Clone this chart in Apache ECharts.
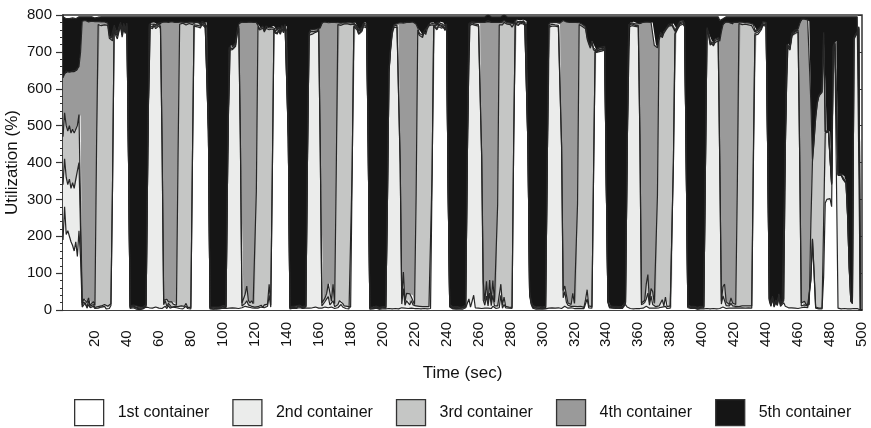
<!DOCTYPE html>
<html>
<head>
<meta charset="utf-8">
<script src="https://cdn.jsdelivr.net/npm/echarts@6/dist/echarts.min.js"></script>
<style>
  html, body { margin: 0; padding: 0; background: #ffffff; }
  #chart { width: 871px; height: 428px; }
</style>
</head>
<body>
<div id="chart"></div>
<script>
// CPU utilization (%) of five containers, one sample per second (t = 0 .. 500 s)
const containerNames = ['1st container', '2nd container', '3rd container', '4th container', '5th container'];

const util1st = [
  190,280,205,215,200,185,175,160,185,145,
  215,140,8,12,20,5,15,6,3,10,
  4,3,5,3,8,4,10,3,6,4,
  12,336,760,745,735,755,770,740,762,750,
  768,408,4,2,6,3,2,5,1,4,
  3,2,8,5,6,4,5,3,8,4,
  5,3,4,6,10,4,12,5,3,8,
  4,6,5,4,8,3,6,10,4,5,
  3,400,770,775,768,772,765,774,770,766,
  772,482,3,5,2,4,2,6,3,2,
  5,3,4,4,5,3,6,4,5,8,
  4,5,6,4,10,5,8,3,6,4,
  5,4,5,3,8,4,6,5,10,40,
  8,367,760,750,745,755,748,760,752,765,
  758,462,3,2,5,2,4,3,6,2,
  4,3,5,6,5,4,6,3,8,4,
  5,4,5,3,8,10,6,4,8,5,
  4,5,6,10,15,8,5,4,6,3,
  5,392,768,770,760,748,745,755,768,772,
  765,442,2,4,3,2,5,3,2,4,
  3,5,3,5,4,5,3,6,4,5,
  3,4,6,8,5,10,4,8,5,6,
  4,5,4,6,3,5,4,6,3,5,
  4,370,770,765,760,768,772,764,770,758,
  766,330,8,5,3,6,2,4,3,5,
  2,4,6,6,30,8,5,40,6,4,
  5,3,4,6,5,8,5,6,4,10,
  5,4,5,6,40,5,15,6,4,5,
  3,4,440,775,780,772,778,774,780,770,
  776,432,40,15,5,3,2,4,3,5,
  2,4,3,5,5,4,6,3,5,4,
  6,3,4,8,10,6,5,4,6,5,
  4,5,4,5,4,6,4,8,30,6,
  4,5,360,700,695,700,700,702,698,705,
  333,20,6,3,5,2,4,3,5,2,
  4,8,15,8,5,4,6,3,5,4,
  6,4,6,5,8,10,6,5,8,5,
  4,5,5,6,4,8,5,10,4,6,
  5,4,400,748,752,765,772,770,775,768,
  400,6,3,4,2,5,3,2,4,3,
  5,3,5,4,5,3,6,4,5,3,
  5,4,6,8,5,4,6,5,8,5,
  4,6,5,5,4,6,3,5,4,6,
  3,5,380,745,742,748,752,760,772,775,
  770,420,25,10,30,8,20,12,35,10,
  15,20,10,8,6,5,6,4,5,6,
  4,5,6,5,8,5,6,4,80,190,
  100,5,4,3,4,3,90,290,300,295,
  302,280,700,715,720,5,4,3,5,4,
  3,3,3,3,2,4,3,4,3,0,
  0
];

const util2nd = [
  150,130,155,125,155,145,170,170,170,215,
  185,70,5,10,6,3,10,4,2,5,
  3,3,4,6,3,2,5,8,4,3,
  5,4,3,5,8,4,3,6,5,4,
  3,3,2,1,3,2,3,2,2,3,
  1,4,2,390,760,765,758,768,755,762,
  766,760,445,8,15,5,6,10,4,3,
  6,3,4,6,3,5,4,8,3,6,
  4,4,3,2,4,3,5,2,3,4,
  3,3,2,3,1,2,3,2,1,2,
  3,2,2,372,700,705,700,702,710,740,
  760,452,5,12,8,20,6,10,4,8,
  3,6,4,6,5,3,8,4,6,30,
  5,5,3,4,3,5,4,3,4,3,
  5,3,2,3,2,1,2,2,3,2,
  1,2,3,410,740,745,742,748,745,750,
  752,424,6,8,15,20,30,10,6,20,
  5,6,8,15,12,10,6,5,4,5,
  3,4,3,2,4,3,5,3,4,2,
  3,3,3,2,1,2,3,2,1,2,
  3,2,2,280,640,700,745,760,765,762,
  766,392,10,50,8,15,25,6,20,8,
  5,6,5,4,6,4,5,3,5,4,
  6,5,3,4,3,4,3,5,3,4,
  3,3,3,2,1,2,3,2,1,2,
  3,2,3,392,740,765,770,730,766,768,
  765,768,410,20,8,30,6,40,8,30,
  6,5,6,5,30,8,20,4,6,3,
  5,3,4,3,2,3,2,3,2,4,
  3,3,4,3,2,1,3,2,1,2,
  3,2,1,372,762,768,764,770,765,768,
  762,766,438,25,40,15,8,6,4,10,
  6,4,5,4,6,5,3,20,25,5,
  6,4,5,4,3,4,3,4,3,3,
  3,3,2,2,1,3,2,2,1,2,
  3,2,3,390,762,768,765,770,764,766,
  762,466,8,6,12,20,40,8,30,10,
  6,4,6,5,8,20,6,25,5,4,
  6,3,5,3,4,3,4,3,4,3,
  3,3,2,1,3,2,2,1,3,2,
  2,3,372,755,740,715,718,712,720,722,
  725,390,10,30,20,8,5,6,10,6,
  5,4,6,4,6,5,4,6,3,5,
  4,6,30,5,8,6,5,4,3,3,
  4,3,3,2,3,2,3,2,5,3,
  4,5,420,705,710,700,738,740,745,742,
  750,412,5,8,6,4,5,6,3,3,
  3,3,3,2,3,2,150,190,180,188,
  178,60,10,6,5,360,365,362,350,355,
  340,250,110,20,15,730,740,745,760,0,
  0
];

const util3rd = [
  130,125,140,145,145,150,145,150,130,140,
  130,320,6,8,4,12,8,3,10,8,
  5,438,765,768,760,770,758,765,762,730,
  715,390,4,6,4,5,3,8,4,3,
  4,3,3,2,2,1,2,3,2,1,
  2,2,3,3,5,6,4,5,6,3,
  4,6,5,12,6,20,4,8,15,5,
  10,4,408,765,762,770,764,755,768,766,
  770,370,4,3,3,5,3,4,2,5,
  3,3,2,1,3,2,1,2,2,1,
  2,3,2,2,4,5,3,6,4,5,
  6,6,8,6,25,40,12,6,15,5,
  8,312,760,750,745,758,740,755,748,690,
  750,390,4,3,5,4,3,5,4,3,
  4,3,2,1,2,3,2,1,2,3,
  2,2,2,3,4,6,5,4,5,3,
  6,5,8,5,10,15,35,60,10,45,
  8,361,760,745,745,755,765,765,766,768,
  766,378,4,3,3,5,3,4,3,4,
  3,3,1,2,2,3,1,2,2,1,
  2,2,1,1,3,4,5,4,3,6,
  4,5,15,45,10,20,12,30,10,25,
  6,302,750,735,740,730,745,738,755,762,
  765,398,4,3,5,3,4,3,4,3,
  4,2,2,3,2,1,2,3,2,1,
  2,2,2,3,4,3,4,5,3,5,
  4,5,6,50,10,40,8,35,12,40,
  10,8,275,762,700,760,745,765,765,768,
  766,760,330,3,3,4,3,2,3,3,
  2,2,3,2,3,2,1,2,2,1,
  2,2,2,2,4,3,5,4,3,5,
  4,5,6,20,15,20,6,8,5,30,
  8,6,280,765,762,758,760,735,680,710,
  700,715,340,3,4,3,4,3,4,3,
  2,2,3,1,2,2,1,2,2,3,
  1,2,2,3,4,3,5,4,3,5,
  4,5,5,10,6,40,50,10,20,35,
  8,6,300,720,735,710,740,720,755,760,
  758,765,368,4,3,4,3,4,3,4,
  3,2,1,2,2,1,3,2,1,2,
  1,2,2,3,4,5,4,3,6,4,
  5,5,8,25,45,10,8,4,15,8,
  6,5,329,768,765,763,770,764,768,762,
  768,760,360,4,6,5,4,3,4,3,
  3,2,2,3,2,1,2,3,2,2,
  3,2,3,4,3,4,3,5,4,3,
  5,4,8,6,10,6,8,5,150,210,
  355,512,553,575,578,585,510,2,2,2,
  2,2,3,3,3,2,2,2,2,2,
  2,2,2,2,2,3,3,3,3,0,
  0
];

const util4th = [
  160,105,148,160,145,165,158,165,165,150,
  130,170,764,752,755,765,748,770,768,760,
  770,340,8,5,10,6,8,4,6,8,
  5,5,5,4,6,3,4,5,6,5,
  3,3,2,3,2,2,4,1,3,2,
  2,3,2,2,4,3,8,4,5,6,
  3,5,326,754,750,752,758,757,760,764,
  760,768,363,5,8,3,6,6,5,3,
  4,3,3,2,5,2,4,3,4,3,
  2,2,1,2,2,3,2,1,2,3,
  2,1,2,2,3,4,5,3,6,4,
  5,318,760,758,737,715,754,762,755,763,
  764,458,6,4,6,5,4,6,3,5,
  4,4,3,5,4,3,6,3,5,4,
  3,2,2,2,1,2,3,2,2,1,
  2,3,2,2,3,5,4,6,3,5,
  4,332,760,765,748,735,708,706,756,710,
  763,408,5,8,6,5,4,6,3,4,
  5,4,3,4,3,4,3,5,3,3,
  4,2,2,1,2,2,2,3,2,2,
  1,2,3,2,2,3,4,3,5,4,
  5,378,750,675,758,735,740,736,745,742,
  765,462,6,5,4,6,3,5,4,3,
  4,4,3,4,3,5,3,4,3,5,
  3,3,2,1,2,3,2,1,2,2,
  1,3,2,2,3,4,3,4,5,3,
  6,4,360,705,757,702,766,699,756,700,
  759,763,494,7,10,6,5,5,4,5,
  4,6,3,4,2,3,3,4,2,3,
  3,3,2,3,2,2,2,1,3,2,
  1,2,3,3,3,5,4,3,6,3,
  5,4,332,732,715,740,761,762,765,735,
  762,765,492,5,4,6,5,5,5,4,
  5,6,5,5,3,4,3,4,3,4,
  2,2,1,2,2,1,3,2,1,2,
  2,3,2,2,3,4,3,5,4,3,
  5,300,760,758,755,710,685,757,722,730,
  700,705,400,5,6,5,4,6,3,5,
  4,5,4,3,4,3,4,3,3,4,
  2,2,2,3,2,2,1,2,2,3,
  2,2,2,4,3,4,3,5,4,5,
  3,330,730,710,710,758,762,765,745,755,
  765,765,440,4,6,5,3,5,4,6,
  3,5,5,3,4,3,3,3,3,4,
  3,2,2,1,2,3,2,1,2,2,
  2,3,2,3,4,3,4,3,5,4,
  3,355,770,770,765,773,768,768,330,5,
  3,2,2,2,2,3,3,2,2,2,
  2,2,2,2,2,2,2,2,2,2,
  2,2,2,2,2,2,2,2,2,0,
  0
];

const util5th = [
  165,155,142,150,145,150,144,150,140,145,
  135,95,12,13,10,10,14,12,12,12,
  10,11,12,13,14,13,14,15,17,50,
  58,60,23,35,42,28,15,36,18,33,
  17,378,784,787,782,787,784,784,787,785,
  787,784,780,395,20,17,20,15,21,20,
  17,21,15,15,14,14,15,15,13,15,
  15,14,15,15,14,14,15,16,15,15,
  14,18,15,13,15,13,18,12,16,17,
  15,305,787,784,787,784,787,784,787,787,
  783,786,785,415,83,78,81,80,70,38,
  20,14,16,15,15,15,15,14,15,15,
  15,15,20,32,31,25,37,25,28,30,
  28,29,25,33,38,28,34,24,30,20,
  25,325,786,787,785,787,784,787,782,787,
  786,785,783,374,43,35,38,34,34,33,
  28,25,16,14,14,15,16,15,15,15,
  15,15,16,17,17,17,15,15,16,15,
  16,17,17,16,25,35,39,28,17,14,
  20,345,787,786,787,786,784,785,788,786,
  786,784,786,507,146,83,38,22,18,18,
  17,16,14,16,14,15,14,15,15,14,
  15,20,30,45,42,50,38,43,28,21,
  16,18,15,19,24,15,13,19,15,25,
  19,457,780,784,787,783,786,785,787,785,
  787,784,782,392,18,15,13,16,15,15,
  15,15,15,14,15,15,15,15,15,15,
  15,15,15,15,15,16,15,15,16,14,
  17,22,18,10,8,13,9,12,8,15,
  11,355,746,772,783,787,787,786,786,785,
  787,785,786,413,21,15,16,15,16,15,
  18,17,15,10,15,14,15,15,15,15,
  15,15,14,16,19,20,23,27,55,70,
  80,65,85,83,90,84,85,82,87,80,
  455,768,783,787,785,787,785,786,786,786,
  785,780,773,392,21,16,16,13,19,17,
  18,20,16,16,14,15,14,15,15,15,
  77,75,84,59,42,52,40,34,28,20,
  22,18,18,37,32,20,12,15,10,16,
  387,782,787,785,786,785,786,788,785,785,
  785,785,414,29,43,68,64,71,60,61,
  57,56,36,17,15,15,14,15,17,21,
  15,15,15,14,14,16,15,15,16,16,
  17,19,20,38,35,33,31,25,13,10,
  15,368,763,779,758,781,768,777,751,778,
  771,765,360,75,72,83,44,43,36,40,
  33,19,6,6,6,7,8,12,232,387,
  334,273,233,213,208,202,42,311,311,308,
  311,451,80,69,65,426,422,426,436,432,
  448,538,678,768,774,56,47,41,27,0,
  0
];

const utilization = [util1st, util2nd, util3rd, util4th, util5th];
const fillColors = ['#ffffff', '#ebeceb', '#c5c6c5', '#9a9a9a', '#151515'];
const seconds = util1st.map((_, i) => String(i));   // sample time axis, 1 s steps

const FONT = '"Liberation Sans", Arial, Helvetica, sans-serif';
const INK = '#111111';
const FRAME = '#333333';

const chart = echarts.init(document.getElementById('chart'), null, { renderer: 'canvas' });

chart.setOption({
  animation: false,
  backgroundColor: '#ffffff',
  textStyle: { fontFamily: FONT, color: INK },
  grid: {
    left: 63, right: 9, top: 15, bottom: 118,
    containLabel: false,
    outerBoundsMode: 'none',
    show: true, borderColor: FRAME, borderWidth: 1.5, backgroundColor: 'transparent'
  },
  legend: {
    left: 74, top: 399, padding: 0,
    itemWidth: 29, itemHeight: 26, itemGap: 23,
    icon: 'rect',
    selectedMode: false,
    textStyle: { fontSize: 16, color: INK, fontFamily: FONT, padding: [0, 0, 0, 9] },
    data: containerNames.map((n, i) => ({
      name: n,
      icon: 'rect',
      itemStyle: { color: fillColors[i], borderColor: FRAME, borderWidth: 1.3 }
    }))
  },
  xAxis: {
    type: 'category',
    data: seconds,
    boundaryGap: false,
    axisLine: { show: true, lineStyle: { color: FRAME, width: 1.5 } },
    axisTick: { show: false },
    splitLine: { show: false },
    axisLabel: {
      interval: 19,
      rotate: 90,
      align: 'left',
      verticalAlign: 'middle',
      margin: 37,
      fontSize: 15,
      color: INK,
      fontFamily: FONT,
      formatter: v => (v === '0' ? '' : v)
    },
    name: 'Time (sec)',
    nameLocation: 'middle',
    nameGap: 55,
    nameMoveOverlap: false,
    nameTextStyle: { fontSize: 17, color: INK, fontFamily: FONT }
  },
  yAxis: [
    {
      type: 'value',
      min: 0, max: 800, interval: 100,
      axisLine: { show: true, lineStyle: { color: FRAME, width: 1.5 } },
      axisTick: { show: true, length: 7, lineStyle: { color: FRAME, width: 1.2 } },
      minorTick: { show: true, splitNumber: 5, length: 3, lineStyle: { color: FRAME, width: 1 } },
      splitLine: { show: false },
      axisLabel: { fontSize: 15, color: INK, margin: 11, fontFamily: FONT },
      name: 'Utilization (%)',
      nameLocation: 'middle',
      nameGap: 42,
      nameMoveOverlap: false,
      nameTextStyle: { fontSize: 17, color: INK, fontFamily: FONT }
    },
    {
      type: 'value',
      position: 'right',
      min: 0, max: 800, interval: 100,
      axisLine: { show: false },
      axisTick: { show: true, inside: true, length: 4, lineStyle: { color: FRAME, width: 1 } },
      axisLabel: { show: false },
      splitLine: { show: false }
    }
  ],
  series: utilization.map((vals, i) => ({
    name: containerNames[i],
    type: 'line',
    stack: 'cpu',
    data: vals,
    symbol: 'none',
    showSymbol: false,
    silent: true,
    lineStyle: { color: '#262626', width: 1.2 },
    itemStyle: { color: fillColors[i] },
    areaStyle: { color: fillColors[i], opacity: 1 },
    emphasis: { disabled: true }
  }))
});
</script>
</body>
</html>
